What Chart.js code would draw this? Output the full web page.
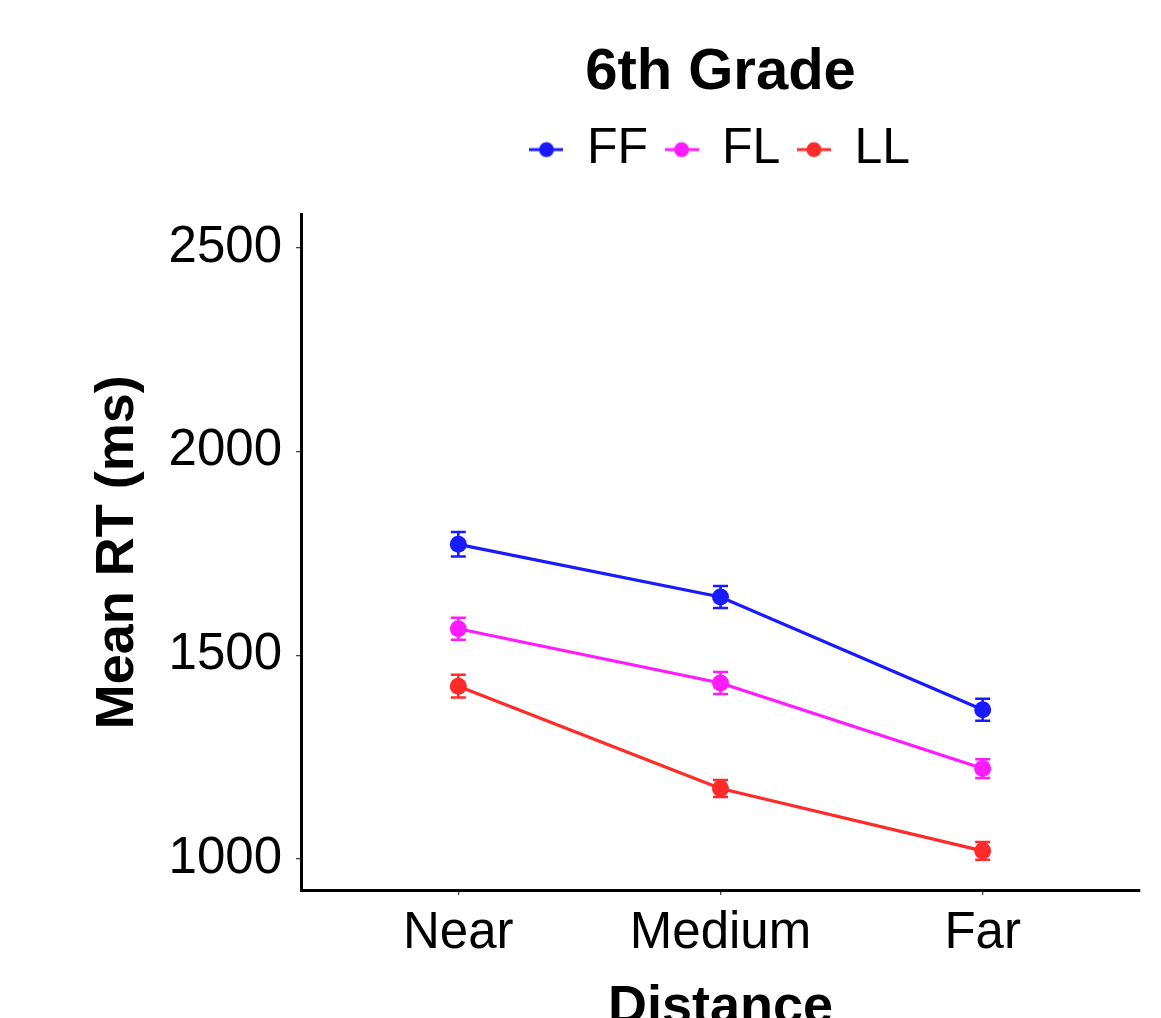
<!DOCTYPE html>
<html>
<head>
<meta charset="utf-8">
<script src="https://cdn.jsdelivr.net/npm/chart.js@4"></script>
<style>
  body { margin: 0; background: #fff; }
  canvas { display: block; }
</style>
</head>
<body>
<canvas id="gradeChart" width="1161" height="1018"></canvas>
<script>
// 6th grade mean RT by distance

const categories = ['Near', 'Medium', 'Far'];
const yTicks = [1000, 1500, 2000, 2500];

const ffValues = [1772, 1643, 1366];
const flValues = [1565, 1432, 1222];
const llValues = [1424, 1173, 1020];

// error bar half widths (ms)
const ffErrors = [30, 27, 27];
const flErrors = [27, 27, 23];
const llErrors = [28, 21, 22];

const seriesNames = ['FF', 'FL', 'LL'];
const seriesColors = ['#1a1aff', '#ff1aff', '#ff2a2a'];

function toPoints(values) {
	return values.map((v, i) => ({ x: i, y: v }));
}

// little line + dot used as legend key
function legendKey(color) {
	const c = document.createElement('canvas');
	c.width = 34;
	c.height = 18;
	const g = c.getContext('2d');
	g.strokeStyle = color;
	g.lineWidth = 3;
	g.beginPath();
	g.moveTo(0, 9);
	g.lineTo(34, 9);
	g.stroke();
	g.fillStyle = color;
	g.beginPath();
	g.arc(17, 9, 7.5, 0, Math.PI * 2);
	g.fill();
	return c;
}

const errorBars = {
	id: 'errorBars',
	beforeDatasetsDraw(chart) {
		const ctx = chart.ctx;
		const yScale = chart.scales.y;
		chart.data.datasets.forEach((ds, di) => {
			const meta = chart.getDatasetMeta(di);
			ctx.save();
			ctx.strokeStyle = ds.borderColor;
			ctx.lineWidth = 2.5;
			meta.data.forEach((pt, i) => {
				const v = ds.data[i].y;
				const top = yScale.getPixelForValue(v + ds.errors[i]);
				const bottom = yScale.getPixelForValue(v - ds.errors[i]);
				ctx.beginPath();
				ctx.moveTo(pt.x, top);
				ctx.lineTo(pt.x, bottom);
				ctx.moveTo(pt.x - 7.5, top);
				ctx.lineTo(pt.x + 7.5, top);
				ctx.moveTo(pt.x - 7.5, bottom);
				ctx.lineTo(pt.x + 7.5, bottom);
				ctx.stroke();
			});
			ctx.restore();
		});
	}
};

const allValues = [ffValues, flValues, llValues];
const allErrors = [ffErrors, flErrors, llErrors];

const data = {
	datasets: seriesNames.map((name, i) => ({
		label: name,
		data: toPoints(allValues[i]),
		errors: allErrors[i],
		borderColor: seriesColors[i],
		backgroundColor: seriesColors[i],
		borderWidth: 3.2,
		pointRadius: 8.5,
		pointBorderWidth: 0,
		pointBackgroundColor: seriesColors[i],
		tension: 0,
		fill: false
	}))
};

const config = {
	type: 'line',
	data: data,
	options: {
		responsive: false,
		animation: false,
		devicePixelRatio: 1,
		layout: {
			padding: { top: 0, left: 0, right: 21, bottom: 0 }
		},
		scales: {
			x: {
				type: 'linear',
				min: -0.6,
				max: 2.6,
				afterBuildTicks: (scale) => {
					scale.ticks = categories.map((c, i) => ({ value: i }));
				},
				afterFit: (scale) => {
					scale.height = 128;
				},
				ticks: {
					color: '#000',
					padding: 8,
					maxRotation: 0,
					font: { family: 'Liberation Sans', size: 51 },
					callback: (value) => categories[value]
				},
				grid: {
					display: true,
					drawOnChartArea: false,
					drawTicks: true,
					tickLength: 5,
					color: '#444',
					lineWidth: 1.3
				},
				border: { display: true, color: '#000', width: 3 },
				title: {
					display: true,
					text: 'Distance',
					color: '#000',
					padding: { top: 0, bottom: -23 },
					font: { family: 'Liberation Sans', size: 54, weight: 'bold' }
				}
			},
			y: {
				min: 924,
				max: 2581,
				afterBuildTicks: (scale) => {
					scale.ticks = yTicks.map(v => ({ value: v }));
				},
				afterFit: (scale) => {
					scale.width = 301;
				},
				ticks: {
					color: '#000',
					padding: 14,
					font: { family: 'Liberation Sans', size: 51 },
					callback: (value) => String(value)
				},
				grid: {
					display: true,
					drawOnChartArea: false,
					drawTicks: true,
					tickLength: 5,
					color: '#444',
					lineWidth: 1.3
				},
				border: { display: true, color: '#000', width: 3 },
				title: {
					display: true,
					text: 'Mean RT (ms)',
					color: '#000',
					padding: { top: 86, bottom: 0 },
					font: { family: 'Liberation Sans', size: 54, weight: 'bold' }
				}
			}
		},
		plugins: {
			title: {
				display: true,
				text: '6th Grade',
				color: '#000',
				fullSize: false,
				padding: { top: 38, bottom: -1 },
				font: { family: 'Liberation Sans', size: 58, weight: 'bold', lineHeight: 1.2 }
			},
			legend: {
				display: true,
				position: 'top',
				fullSize: false,
				labels: {
					usePointStyle: true,
					boxWidth: 31,
					pointStyleWidth: 31,
					padding: 18,
					color: '#000',
					font: { family: 'Liberation Sans', size: 50 },
					generateLabels: (chart) => chart.data.datasets.map((ds, i) => ({
						text: ds.label,
						pointStyle: legendKey(ds.borderColor),
						fontColor: '#000',
						strokeStyle: ds.borderColor,
						fillStyle: ds.borderColor,
						lineWidth: 0,
						hidden: false,
						datasetIndex: i
					}))
				}
			},
			// empty spacer between legend and plot
			subtitle: {
				display: true,
				text: ' ',
				weight: 500,
				fullSize: false,
				padding: { top: 0, bottom: 29 },
				font: { size: 1, lineHeight: 1 }
			},
			tooltip: { enabled: false }
		}
	},
	plugins: [errorBars]
};

const ctx = document.getElementById('gradeChart').getContext('2d');
new Chart(ctx, config);
</script>
</body>
</html>
